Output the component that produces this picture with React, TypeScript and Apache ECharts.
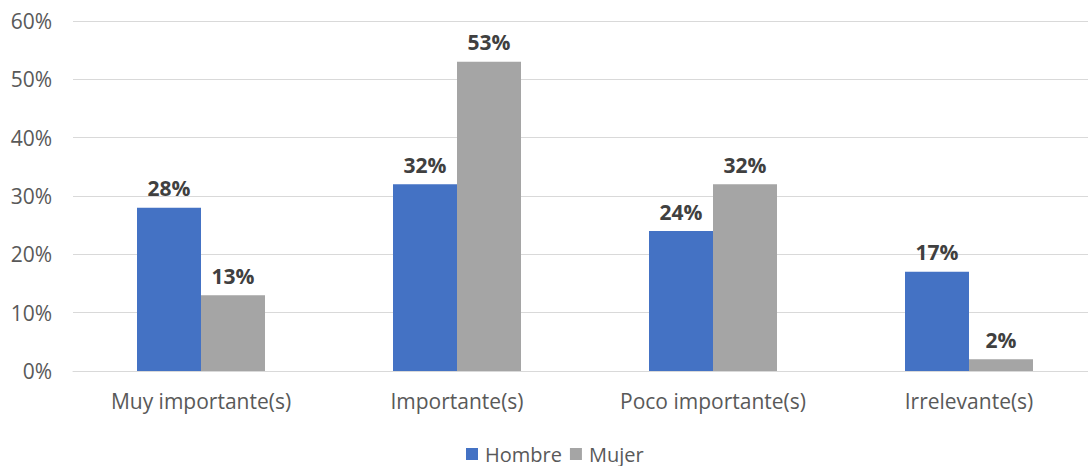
import React, { useEffect, useRef } from "react";
import * as echarts from "echarts";

const categories = ["Muy importante(s)", "Importante(s)", "Poco importante(s)", "Irrelevante(s)"];
const hombre = [28, 32, 24, 17];
const mujer = [13, 53, 32, 2];
const yTicks = [0, 10, 20, 30, 40, 50, 60];

const FONT = "'Open Sans', sans-serif";

export default function App() {
  const ref = useRef<HTMLDivElement>(null);

  useEffect(() => {
    if (!ref.current) return;
    const chart = echarts.init(ref.current, null, { renderer: "svg" });
    const label = {
      show: true,
      position: "top" as const,
      distance: 9,
      formatter: (p: any) => `${p.value}%`,
      color: "#404040",
      fontFamily: FONT,
      fontWeight: "bold" as const,
      fontSize: 21,
    };
    chart.setOption({
      animation: false,
      backgroundColor: "#ffffff",
      // plot area runs past the visible right edge
      grid: { left: 73, top: 21, width: 1024, height: 350, containLabel: false },
      legend: {
        left: 466,
        top: 444,
        icon: "rect",
        itemWidth: 12,
        itemHeight: 12,
        itemGap: 8,
        padding: 0,
        textStyle: {
          color: "#595959",
          fontFamily: FONT,
          fontSize: 20,
          lineHeight: 20,
          padding: [0, 0, 0, 2],
        },
        data: ["Hombre", "Mujer"],
      },
      xAxis: {
        type: "category",
        data: categories,
        axisLine: { show: true, lineStyle: { color: "#D9D9D9", width: 1 } },
        axisTick: { show: false },
        axisLabel: { color: "#595959", fontFamily: FONT, fontSize: 21, margin: 19 },
      },
      yAxis: {
        type: "value",
        min: yTicks[0],
        max: yTicks[yTicks.length - 1],
        interval: 10,
        axisLine: { show: false },
        axisTick: { show: false },
        splitLine: { lineStyle: { color: "#D9D9D9", width: 1 } },
        axisLabel: {
          color: "#595959",
          fontFamily: FONT,
          fontSize: 21,
          margin: 21,
          formatter: (v: number) => `${v}%`,
        },
      },
      series: [
        {
          name: "Hombre",
          type: "bar",
          data: hombre,
          barGap: "0%",
          barCategoryGap: "50%",
          itemStyle: { color: "#4472C4" },
          label,
        },
        {
          name: "Mujer",
          type: "bar",
          data: mujer,
          itemStyle: { color: "#A5A5A5" },
          label,
        },
      ],
    });
    return () => chart.dispose();
  }, []);

  return (
    <div
      style={{
        position: "fixed",
        left: 0,
        top: 0,
        width: 1088,
        height: 466,
        overflow: "hidden",
        background: "#fff",
      }}
    >
      <div ref={ref} style={{ width: 1097, height: 466 }} />
    </div>
  );
}
